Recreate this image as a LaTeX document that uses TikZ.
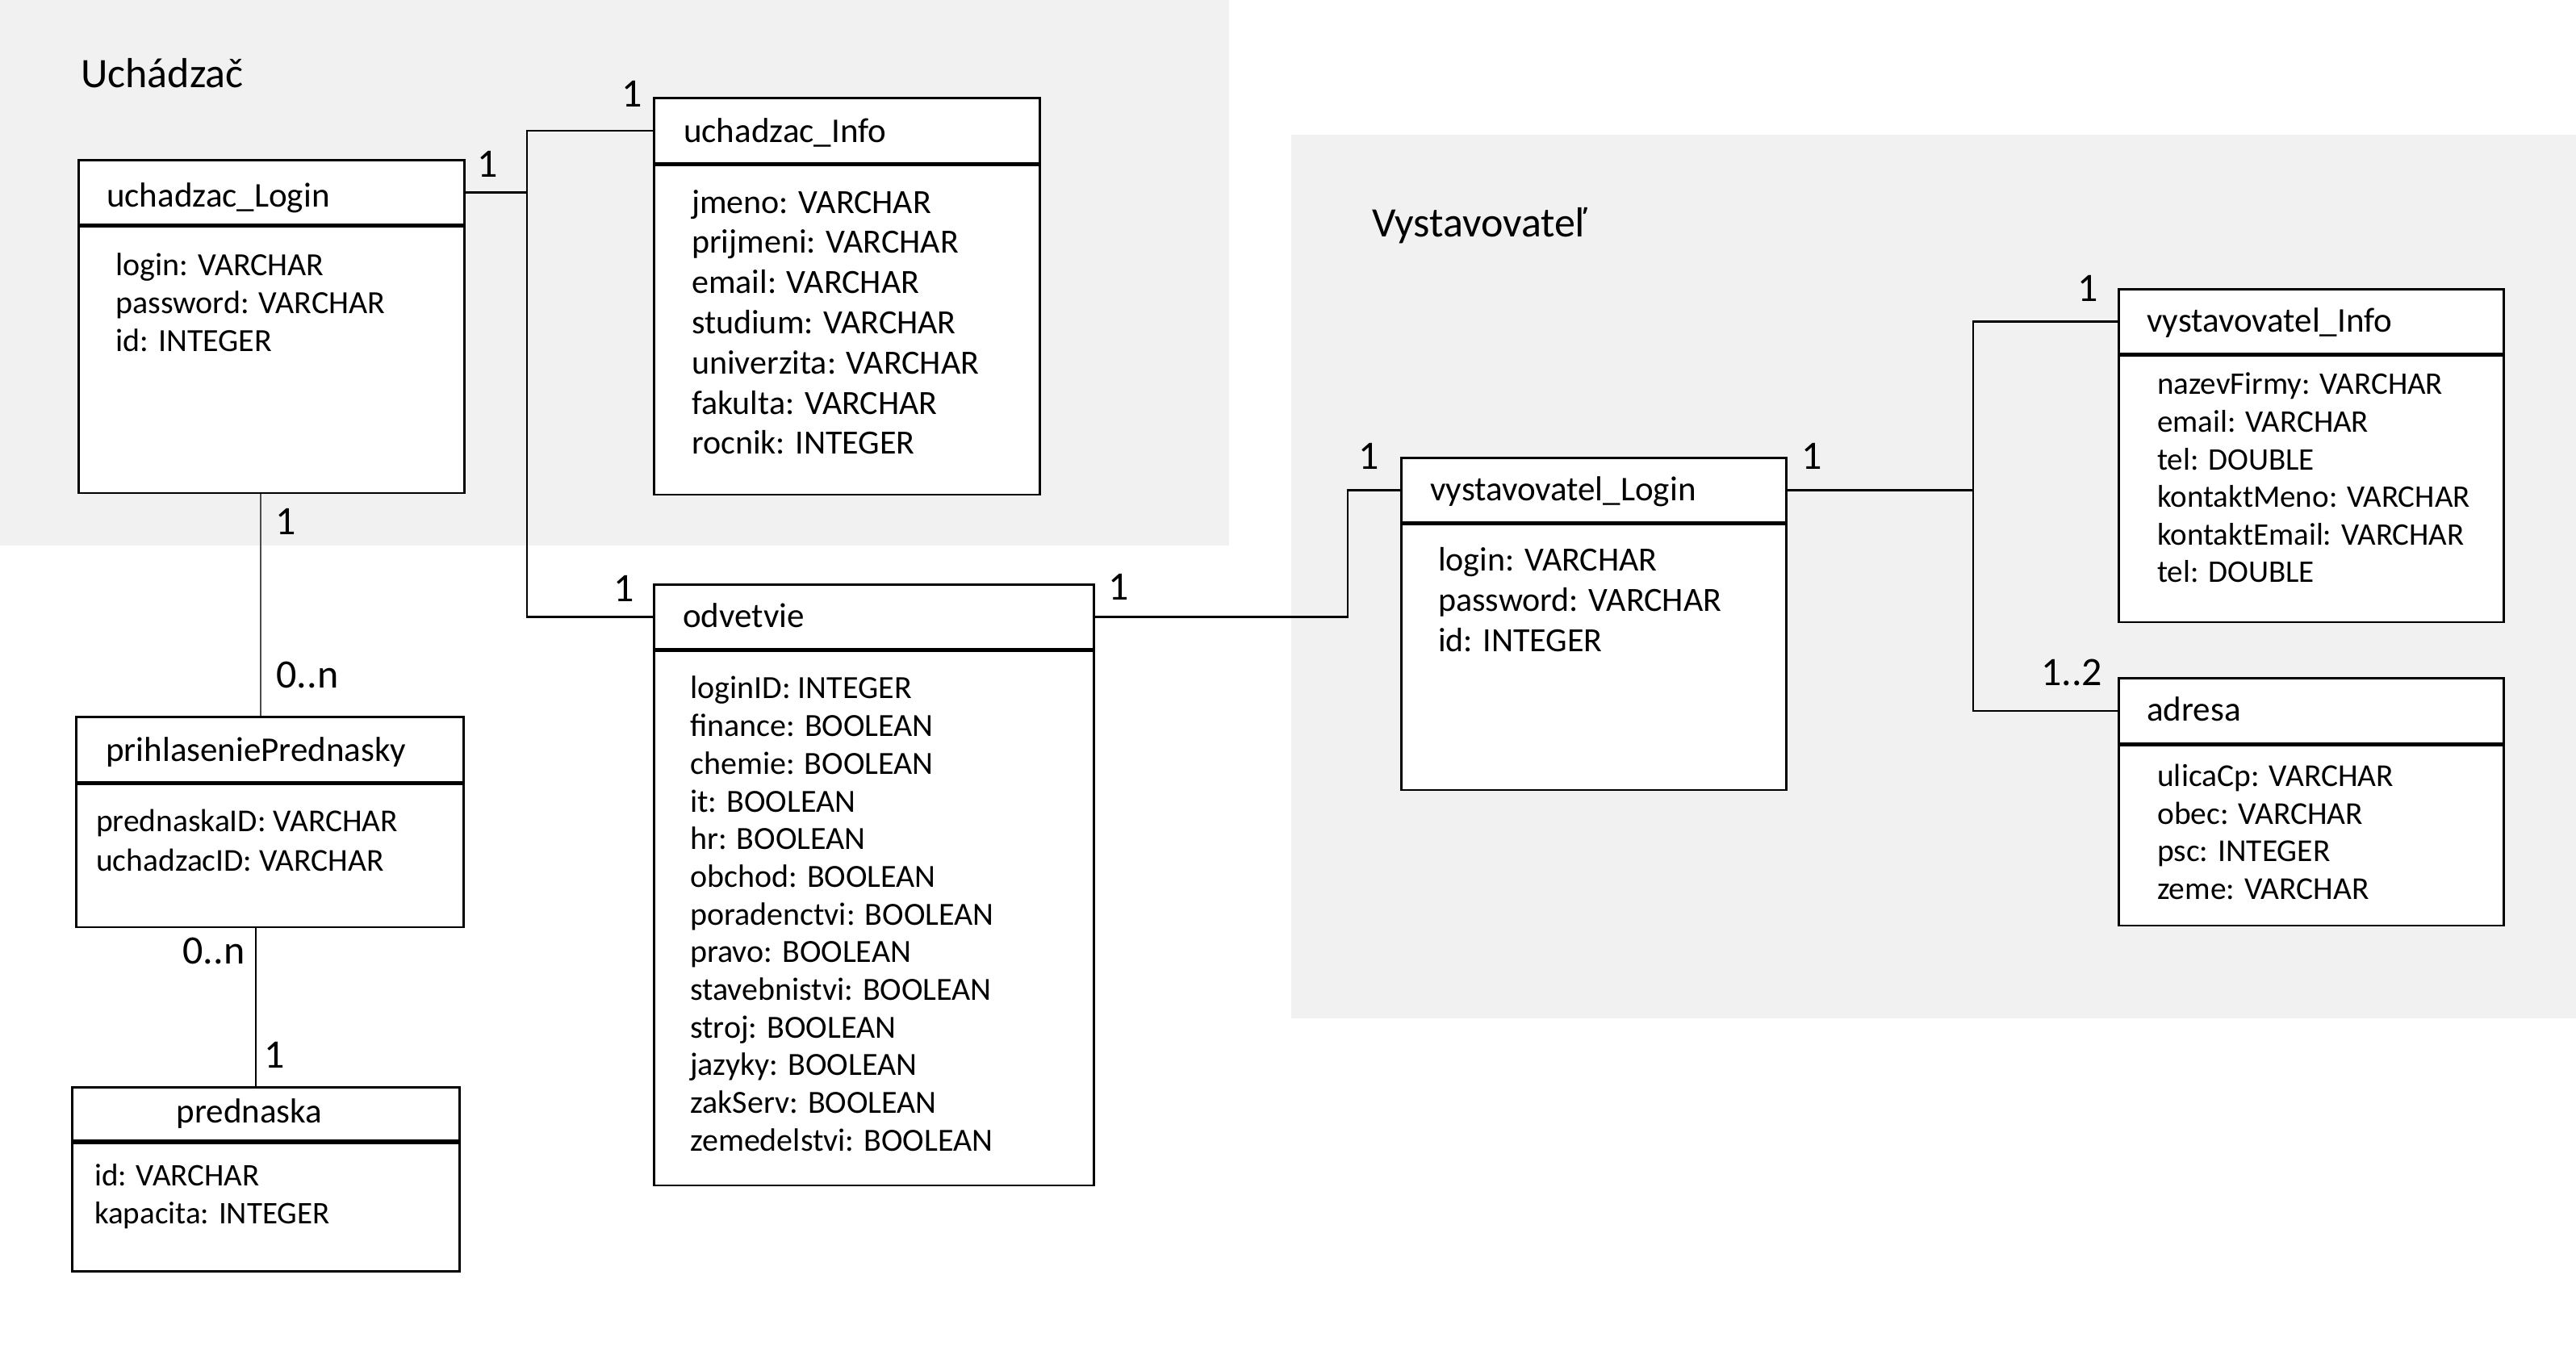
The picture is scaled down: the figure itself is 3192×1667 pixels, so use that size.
\documentclass[tikz,border=0pt]{standalone}
\usepackage{fontspec}
\setmainfont{Carlito}
\definecolor{bggray}{RGB}{241,241,241}
\tikzset{
  hdr/.style={draw, fill=white, line width=2.6pt, anchor=north west, inner sep=0pt, minimum height=80pt},
  bdy/.style={draw, fill=white, line width=2.6pt, anchor=north west, inner sep=0pt},
  ttl/.style={anchor=base west, inner sep=0pt, font=\fontsize{43}{50}\selectfont},
  att/.style 2 args={anchor=north west, inner sep=0pt, align=left, font=\fontsize{#1}{#2}\selectfont},
  mult/.style={inner sep=0pt, font=\fontsize{50}{56}\selectfont},
  grp/.style={anchor=base west, inner sep=0pt, font=\fontsize{52}{60}\selectfont},
  conn/.style={line width=2.6pt},
  lightconn/.style={line width=1.6pt, draw=black!70},
}
\begin{document}
\begin{tikzpicture}[x=1pt, y=-1pt]
\useasboundingbox (0,0) rectangle (3192,1667);
% group backgrounds
\fill[bggray] (0,0) rectangle (1523,676);
\fill[bggray] (1600,167) rectangle (3192,1262);
\node[grp] (g-uch) at (100,109) {Uchádzač};
\node[grp] (g-vys) at (1700,293) {Vystavovateľ};

% uchadzac_Login
\node[hdr, minimum width=478pt] (ulogin-h) at (96,197) {};
\node[bdy, minimum width=478pt, minimum height=330pt] (ulogin-b) at (ulogin-h.south west) {};
\node[ttl] (ulogin-t) at (132,256) {uchadzac\_Login};
\node[att={40}{47}] (ulogin-a) at (143,308) {\strut login: VARCHAR\\password: VARCHAR\\id: INTEGER};

% uchadzac_Info
\node[hdr, minimum width=478pt, minimum height=81pt] (uinfo-h) at (809,120) {};
\node[bdy, minimum width=478pt, minimum height=408pt] (uinfo-b) at (uinfo-h.south west) {};
\node[ttl] (uinfo-t) at (847,176) {uchadzac\_Info};
\node[att={42}{49.8}] (uinfo-a) at (857,229) {\strut jmeno: VARCHAR\\prijmeni: VARCHAR\\email: VARCHAR\\studium: VARCHAR\\univerzita: VARCHAR\\fakulta: VARCHAR\\rocnik: INTEGER};

% odvetvie
\node[hdr, minimum width=545pt] (odv-h) at (809,723) {};
\node[bdy, minimum width=545pt, minimum height=662pt] (odv-b) at (odv-h.south west) {};
\node[ttl] (odv-t) at (846,777) {odvetvie};
\node[att={40}{46.7}] (odv-a) at (855,833) {\strut loginID: INTEGER\\finance: BOOLEAN\\chemie: BOOLEAN\\it: BOOLEAN\\hr: BOOLEAN\\obchod: BOOLEAN\\poradenctvi: BOOLEAN\\pravo: BOOLEAN\\stavebnistvi: BOOLEAN\\stroj: BOOLEAN\\jazyky: BOOLEAN\\zakServ: BOOLEAN\\zemedelstvi: BOOLEAN};

% prihlaseniePrednasky
\node[hdr, minimum width=480pt, minimum height=81pt] (prihl-h) at (93,887) {};
\node[bdy, minimum width=480pt, minimum height=177pt] (prihl-b) at (prihl-h.south west) {};
\node[ttl] (prihl-t) at (131,943) {prihlaseniePrednasky};
\node[att={39.5}{49}] (prihl-a) at (119,996) {\strut prednaskaID: VARCHAR\\uchadzacID: VARCHAR};

% prednaska
\node[hdr, minimum width=480pt, minimum height=66pt, line width=3.4pt] (pred-h) at (88,1346) {};
\node[bdy, minimum width=480pt, minimum height=159pt] (pred-b) at (pred-h.south west) {};
\node[ttl, anchor=base] (pred-t) at (309,1391) {prednaska};
\node[att={39}{47}] (pred-a) at (117,1436) {\strut id: VARCHAR\\kapacita: INTEGER};

% vystavovatel_Login
\node[hdr, minimum width=477pt] (vlogin-h) at (1735,566) {};
\node[bdy, minimum width=477pt, minimum height=329pt] (vlogin-b) at (vlogin-h.south west) {};
\node[ttl] (vlogin-t) at (1772,620) {vystavovatel\_Login};
\node[att={42}{50}] (vlogin-a) at (1782,672) {\strut login: VARCHAR\\password: VARCHAR\\id: INTEGER};

% vystavovatel_Info
\node[hdr, minimum width=477pt] (vinfo-h) at (2624,357) {};
\node[bdy, minimum width=477pt, minimum height=330pt] (vinfo-b) at (vinfo-h.south west) {};
\node[ttl] (vinfo-t) at (2660,411) {vystavovatel\_Info};
\node[att={39}{46.6}] (vinfo-a) at (2673,456) {\strut nazevFirmy: VARCHAR\\email: VARCHAR\\tel: DOUBLE\\kontaktMeno: VARCHAR\\kontaktEmail: VARCHAR\\tel: DOUBLE};

% adresa
\node[hdr, minimum width=477pt, minimum height=81pt] (adr-h) at (2624,839) {};
\node[bdy, minimum width=477pt, minimum height=223pt] (adr-b) at (adr-h.south west) {};
\node[ttl] (adr-t) at (2660,893) {adresa};
\node[att={39.5}{46.5}] (adr-a) at (2673,942) {\strut ulicaCp: VARCHAR\\obec: VARCHAR\\psc: INTEGER\\zeme: VARCHAR};

% bus coordinates
\coordinate (busU) at (653,0);
\coordinate (busM) at (1670,0);
\coordinate (busV) at (2445,0);
\coordinate (v1) at (323,0);
\coordinate (v2) at (317,0);

% connectors
\draw[conn] (ulogin-h.east) -- (busU |- ulogin-h.east);
\draw[conn] (uinfo-h.west) -- (busU |- uinfo-h.west) -- (busU |- odv-h.west) -- (odv-h.west);
\draw[conn] (odv-h.east) -- (busM |- odv-h.east) -- (busM |- vlogin-h.west) -- (vlogin-h.west);
\draw[conn] (vlogin-h.east) -- (busV |- vlogin-h.east);
\draw[conn] (vinfo-h.west) -- (busV |- vinfo-h.west) -- (busV |- adr-h.west) -- (adr-h.west);
\draw[lightconn] (v1 |- ulogin-b.south) -- (v1 |- prihl-h.north);
\draw[conn, line width=2pt] (v2 |- prihl-b.south) -- (v2 |- pred-h.north);

% multiplicities
\node[mult] (m1) at (604,203) {1};
\node[mult] (m2) at (783,116) {1};
\node[mult] (m3) at (354,646) {1};
\node[mult] (m4) at (381,836) {0..n};
\node[mult] (m5) at (773,729) {1};
\node[mult] (m6) at (265,1178) {0..n};
\node[mult] (m7) at (340,1307) {1};
\node[mult] (m8) at (1386,727) {1};
\node[mult] (m9) at (1696,565) {1};
\node[mult] (m10) at (2245,565) {1};
\node[mult] (m11) at (2587,357) {1};
\node[mult] (m12) at (2567,833) {1..2};
\end{tikzpicture}
\end{document}
